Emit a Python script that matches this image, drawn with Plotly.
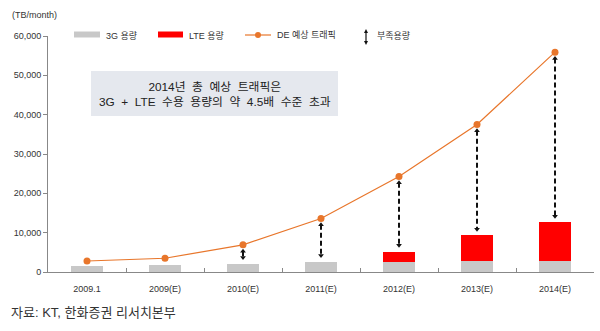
import plotly.graph_objects as go

categories = ["2009.1", "2009(E)", "2010(E)", "2011(E)", "2012(E)", "2013(E)", "2014(E)"]
cap_3g = [1500, 1800, 2100, 2600, 2500, 2700, 2700]
cap_lte = [0, 0, 0, 0, 2700, 6600, 9900]
traffic_de = [2800, 3500, 6900, 13600, 24300, 37500, 55900]
shortfall_cats = ["2010(E)", "2011(E)", "2012(E)", "2013(E)", "2014(E)"]
y_ticks = [0, 10000, 20000, 30000, 40000, 50000, 60000]

FONT = "Liberation Sans, Arial, Noto Sans CJK KR, sans-serif"
W, H = 600, 331
ML, MR, MT, MB = 48, 6, 36, 59
PW, PH = W - ML - MR, H - MT - MB


def px(x):
    return (x - ML) / PW


def py(y):
    return (H - MB - y) / PH


fig = go.Figure()
fig.add_trace(go.Bar(x=categories, y=cap_3g, marker=dict(color="#c8c8c8", line=dict(width=0)),
                     width=0.41, name="3G 용량"))
fig.add_trace(go.Bar(x=categories, y=cap_lte, marker=dict(color="#ff0000", line=dict(width=0)),
                     width=0.41, name="LTE 용량"))
fig.add_trace(go.Scatter(x=categories, y=traffic_de, mode="lines+markers",
                         line=dict(color="#e8762b", width=1.2),
                         marker=dict(color="#e8762b", size=7), name="DE 예상 트래픽"))

# shortfall arrows
gap, head = 1000, 600
lx, ly, tx, ty, bx, by = [], [], [], [], [], []
for c in shortfall_cats:
    i = categories.index(c)
    top = traffic_de[i] - gap
    bot = cap_3g[i] + cap_lte[i] + gap
    lx += [c, c, None]
    ly += [top - head, bot + head, None]
    tx.append(c); ty.append(top - head)
    bx.append(c); by.append(bot + head)
fig.add_trace(go.Scatter(x=lx, y=ly, mode="lines", line=dict(color="#111", width=2, dash="5px,3px")))
fig.add_trace(go.Scatter(x=tx, y=ty, mode="markers",
                         marker=dict(symbol="triangle-up", size=5, color="#111")))
fig.add_trace(go.Scatter(x=bx, y=by, mode="markers",
                         marker=dict(symbol="triangle-down", size=5, color="#111")))

shapes = []
annotations = []
# legend
shapes.append(dict(type="rect", xref="paper", yref="paper", x0=px(74), x1=px(100), y0=py(37.5), y1=py(31.5),
                   fillcolor="#c8c8c8", line=dict(width=0)))
shapes.append(dict(type="rect", xref="paper", yref="paper", x0=px(158), x1=px(183), y0=py(37.5), y1=py(31.5),
                   fillcolor="#ff0000", line=dict(width=0)))
shapes.append(dict(type="line", xref="paper", yref="paper", x0=px(245), x1=px(271), y0=py(35), y1=py(35),
                   line=dict(color="#e8762b", width=1.2)))
shapes.append(dict(type="circle", xref="paper", yref="paper", x0=px(255), x1=px(261), y0=py(38), y1=py(32),
                   fillcolor="#e8762b", line=dict(width=0)))
shapes.append(dict(type="line", xref="paper", yref="paper", x0=px(366), x1=px(366), y0=py(32), y1=py(42),
                   line=dict(color="#111", width=1.2)))
shapes.append(dict(type="path", xref="paper", yref="paper",
                   path=f"M {px(364)} {py(33)} L {px(368)} {py(33)} L {px(366)} {py(29)} Z",
                   fillcolor="#111", line=dict(width=0)))
shapes.append(dict(type="path", xref="paper", yref="paper",
                   path=f"M {px(364)} {py(41)} L {px(368)} {py(41)} L {px(366)} {py(45)} Z",
                   fillcolor="#111", line=dict(width=0)))
for x0, txt in [(104, "3G 용량"), (187, "LTE 용량"), (275, "DE 예상 트래픽"), (375, "부족용량")]:
    annotations.append(dict(xref="paper", yref="paper", x=px(x0), y=py(35), text=txt, showarrow=False,
                            xanchor="left", yanchor="middle", font=dict(family=FONT, size=9, color="#333")))
# text box
shapes.append(dict(type="rect", xref="paper", yref="paper", x0=px(91), x1=px(338), y0=py(116), y1=py(71),
                   fillcolor="#e5e8ee", line=dict(width=0), layer="below"))
annotations.append(dict(xref="paper", yref="paper", x=px(214.5), y=py(94.5),
                        text="2014년  총  예상  트래픽은<br>3G  +  LTE  수용  용량의  약  4.5배  수준  초과",
                        showarrow=False, xanchor="center", yanchor="middle", align="center",
                        font=dict(family=FONT, size=11.8, color="#222")))
annotations.append(dict(xref="paper", yref="paper", x=px(10), y=py(15), text="(TB/month)", showarrow=False,
                        xanchor="left", yanchor="middle", font=dict(family=FONT, size=9, color="#333")))
annotations.append(dict(xref="paper", yref="paper", x=px(9), y=py(312), text="자료: KT, 한화증권 리서치본부",
                        showarrow=False, xanchor="left", yanchor="middle",
                        font=dict(family=FONT, size=13, color="#333")))

fig.update_layout(
    width=W, height=H, margin=dict(l=ML, r=MR, t=MT, b=MB),
    paper_bgcolor="white", plot_bgcolor="white", barmode="stack", showlegend=False,
    shapes=shapes, annotations=annotations, bargap=0,
    font=dict(family=FONT, size=9, color="#333"),
)
fig.update_xaxes(type="category", range=[-0.5, 6.5], showline=True, linecolor="#888", linewidth=1,
                 ticks="inside", ticklen=4, tickcolor="#888", tickson="boundaries", showgrid=False,
                 tickfont=dict(family=FONT, size=9, color="#333"), ticklabelstandoff=8)
fig.update_yaxes(range=[0, 60000], tickvals=y_ticks, tickformat=",", showline=True, linecolor="#888",
                 linewidth=1, ticks="outside", ticklen=4, tickcolor="#888", showgrid=False, zeroline=False,
                 tickfont=dict(family=FONT, size=9, color="#333"))

fig.write_html("out.html")
